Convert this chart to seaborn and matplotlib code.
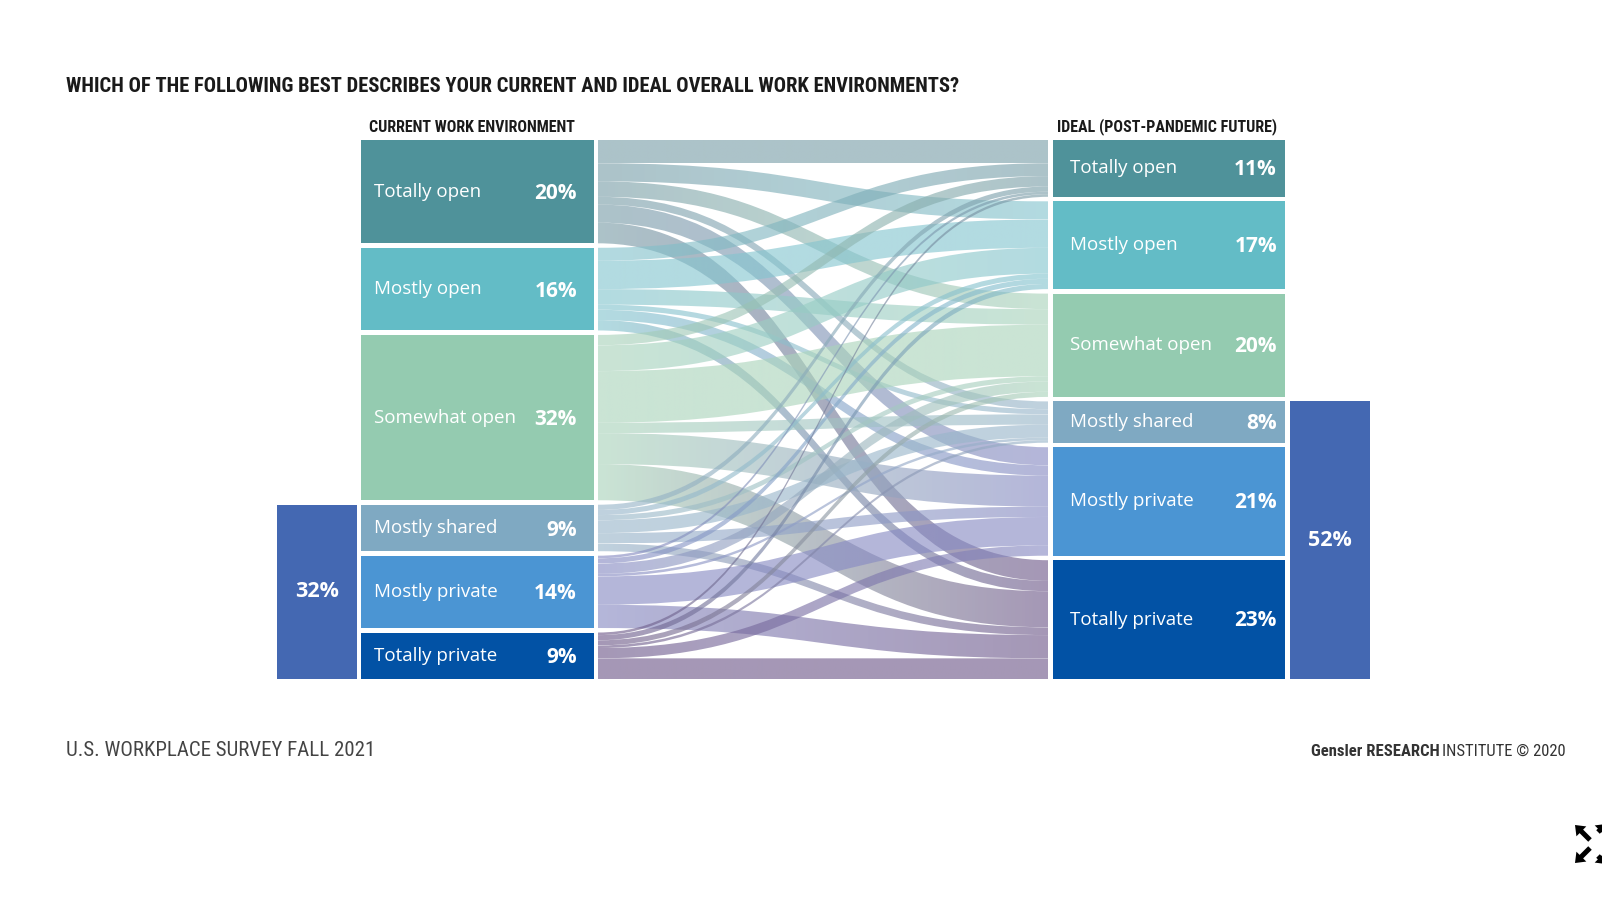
import numpy as np
import matplotlib
matplotlib.use("Agg")
import matplotlib.pyplot as plt
import seaborn as sns
from matplotlib.path import Path
from matplotlib.patches import PathPatch, FancyArrow
from matplotlib.colors import to_rgb

# ---- survey data -------------------------------------------------------
categories = ["Totally open", "Mostly open", "Somewhat open",
              "Mostly shared", "Mostly private", "Totally private"]
current_pct = [20, 16, 32, 9, 14, 9]
ideal_pct = [11, 17, 20, 8, 21, 23]
current_private_total = 32   # mostly shared + mostly private + totally private
ideal_private_total = 52

# respondents moving from current (rows) to ideal (columns), % of total
flow_matrix = [
    [4.5, 3.5, 3.0, 1.5, 3.5, 4.0],
    [2.5, 5.5, 3.0, 1.0, 2.0, 2.0],
    [2.0, 5.0, 10.0, 2.0, 6.0, 7.0],
    [1.0, 1.0, 1.0, 2.5, 2.0, 1.5],
    [0.5, 1.0, 2.0, 0.5, 5.5, 4.5],
    [0.5, 1.0, 1.0, 0.5, 2.0, 4.0],
]

node_colors = ["#4F929A", "#63BCC6", "#94CBB0", "#7FA9C2", "#4B95D3", "#0252A5"]
flow_colors = ["#7A9EA8", "#84C5CF", "#AAD4BB", "#99B6CA", "#878AC3", "#6E5889"]
group_color = "#4468B2"
flow_alpha = 0.62

# ---- style --------------------------------------------------------------
sns.set_theme(style="white")
plt.rcParams["font.family"] = ["Open Sans", "DejaVu Sans"]
narrow = ["Roboto Condensed", "Liberation Sans Narrow", "DejaVu Sans"]

W, H = 1602, 900
fig = plt.figure(figsize=(W / 100, H / 100), dpi=100)
fig.patch.set_facecolor("white")

# chart axes: x in pixels, y in percentage units (plus gaps between nodes)
top_px, bot_px = 140, 679
gap = 0.87
y_total = 100 + gap * (len(categories) - 1)
ax = fig.add_axes([0, 1 - bot_px / H, 1, (bot_px - top_px) / H])
ax.set_xlim(0, W)
ax.set_ylim(y_total, 0)
ax.axis("off")

# column geometry (pixels)
left_x0, left_x1 = 361, 594
right_x0, right_x1 = 1053, 1285
band_x0, band_x1 = 598, 1048
lgrp_x0, lgrp_x1 = 277, 357
rgrp_x0, rgrp_x1 = 1290, 1370


def stack(values):
    tops, y = [], 0.0
    for v in values:
        tops.append(y)
        y += v + gap
    return tops


left_tops = stack(current_pct)
right_tops = stack(ideal_pct)

# ---- flows ---------------------------------------------------------------
n = len(categories)
src_offset = [left_tops[i] for i in range(n)]
dst_offset = [right_tops[j] for j in range(n)]
src_pos = {}
for i in range(n):
    for j in range(n):
        src_pos[(i, j)] = src_offset[i]
        src_offset[i] += flow_matrix[i][j]
dst_pos = {}
for j in range(n):
    for i in range(n):
        dst_pos[(i, j)] = dst_offset[j]
        dst_offset[j] += flow_matrix[i][j]

xm = (band_x0 + band_x1) / 2
grad_n = 256
for i in range(n):
    for j in range(n):
        v = flow_matrix[i][j]
        ya, yb = src_pos[(i, j)], dst_pos[(i, j)]
        verts = [
            (band_x0, ya), (xm, ya), (xm, yb), (band_x1, yb),
            (band_x1, yb + v), (xm, yb + v), (xm, ya + v), (band_x0, ya + v),
            (band_x0, ya),
        ]
        codes = [Path.MOVETO, Path.CURVE4, Path.CURVE4, Path.CURVE4,
                 Path.LINETO, Path.CURVE4, Path.CURVE4, Path.CURVE4,
                 Path.CLOSEPOLY]
        patch = PathPatch(Path(verts, codes), facecolor="none", edgecolor="none")
        ax.add_patch(patch)
        c0, c1 = np.array(to_rgb(flow_colors[i])), np.array(to_rgb(flow_colors[j]))
        t = np.linspace(0, 1, grad_n)[:, None]
        rgb = c0 * (1 - t) + c1 * t
        rgba = np.concatenate([rgb, np.full((grad_n, 1), flow_alpha)], axis=1)[None, :, :]
        ymin, ymax = min(ya, yb), max(ya, yb) + v
        im = ax.imshow(rgba, extent=(band_x0, band_x1, ymax, ymin),
                       aspect="auto", interpolation="bilinear", zorder=2)
        im.set_clip_path(patch)

# ---- nodes ---------------------------------------------------------------
ax.bar([(left_x0 + left_x1) / 2] * n, current_pct, bottom=left_tops,
       width=left_x1 - left_x0, color=node_colors, linewidth=0, zorder=3)
ax.bar([(right_x0 + right_x1) / 2] * n, ideal_pct, bottom=right_tops,
       width=right_x1 - right_x0, color=node_colors, linewidth=0, zorder=3)

# grouped private/shared totals
lg_top = left_tops[3]
ax.bar((lgrp_x0 + lgrp_x1) / 2, current_private_total + 2 * gap, bottom=lg_top,
       width=lgrp_x1 - lgrp_x0, color=group_color, linewidth=0, zorder=3)
rg_top = right_tops[3]
ax.bar((rgrp_x0 + rgrp_x1) / 2, ideal_private_total + 2 * gap, bottom=rg_top,
       width=rgrp_x1 - rgrp_x0, color=group_color, linewidth=0, zorder=3)

label_kw = dict(color="white", fontsize=13.5, va="center", zorder=5)
pct_kw = dict(color="white", fontsize=15, fontweight="bold", va="center",
              ha="right", zorder=5)
for k in range(n):
    yc = left_tops[k] + current_pct[k] / 2
    ax.text(left_x0 + 13, yc, categories[k], ha="left", **label_kw)
    ax.text(left_x1 - 17, yc + 0.4, f"{current_pct[k]}%", **pct_kw)
    yc = right_tops[k] + ideal_pct[k] / 2
    ax.text(right_x0 + 17, yc, categories[k], ha="left", **label_kw)
    ax.text(right_x1 - 8, yc + 0.2, f"{ideal_pct[k]}%", **pct_kw)

ax.text((lgrp_x0 + lgrp_x1) / 2, lg_top + (current_private_total + 2 * gap) / 2,
        f"{current_private_total}%", color="white", fontsize=15.5,
        fontweight="bold", ha="center", va="center", zorder=5)
ax.text((rgrp_x0 + rgrp_x1) / 2, rg_top + (ideal_private_total + 2 * gap) / 2,
        f"{ideal_private_total}%", color="white", fontsize=15.5,
        fontweight="bold", ha="center", va="center", zorder=5)

# ---- titles and footer ----------------------------------------------------
cond = dict(family=narrow, fontstretch="condensed")
fig.text(66 / W, 1 - 86 / H,
         "WHICH OF THE FOLLOWING BEST DESCRIBES YOUR CURRENT AND IDEAL OVERALL WORK ENVIRONMENTS?",
         fontweight="bold", fontsize=14.8, color="#1a1a1a",
         ha="left", va="center", **cond)
fig.text(369 / W, 1 - 127 / H, "CURRENT WORK ENVIRONMENT",
         fontweight="bold", fontsize=11.5, color="#1a1a1a", ha="left", va="center", **cond)
fig.text(1057 / W, 1 - 127 / H, "IDEAL (POST-PANDEMIC FUTURE)",
         fontweight="bold", fontsize=11.5, color="#1a1a1a", ha="left", va="center", **cond)

fig.text(66 / W, 1 - 750 / H, "U.S. WORKPLACE SURVEY FALL 2021",
         fontsize=15, color="#444444", ha="left", va="center", **cond)
t2 = fig.text(1566 / W, 1 - 751 / H, "INSTITUTE © 2020",
              fontsize=12, color="#333333", ha="right", va="center", **cond)
fig.canvas.draw()
bb = t2.get_window_extent()
fig.text((bb.x0 - 3) / W, 1 - 751 / H, "Gensler RESEARCH",
         fontweight="bold", fontsize=12, color="#333333", ha="right", va="center", **cond)

# expand icon in the bottom-right corner
ov = fig.add_axes([0, 0, 1, 1], facecolor="none")
ov.set_xlim(0, W)
ov.set_ylim(H, 0)
ov.axis("off")
for (x0, y0, dx, dy) in [(1590, 840, -15, -15), (1590, 848, -15, 15),
                         (1598, 832, 8, -8), (1598, 856, 8, 8)]:
    ov.add_patch(FancyArrow(x0, y0, dx, dy, width=5, head_width=14,
                            head_length=9, length_includes_head=True,
                            color="black", linewidth=0))

fig.savefig("out.png", dpi=100, facecolor="white")
